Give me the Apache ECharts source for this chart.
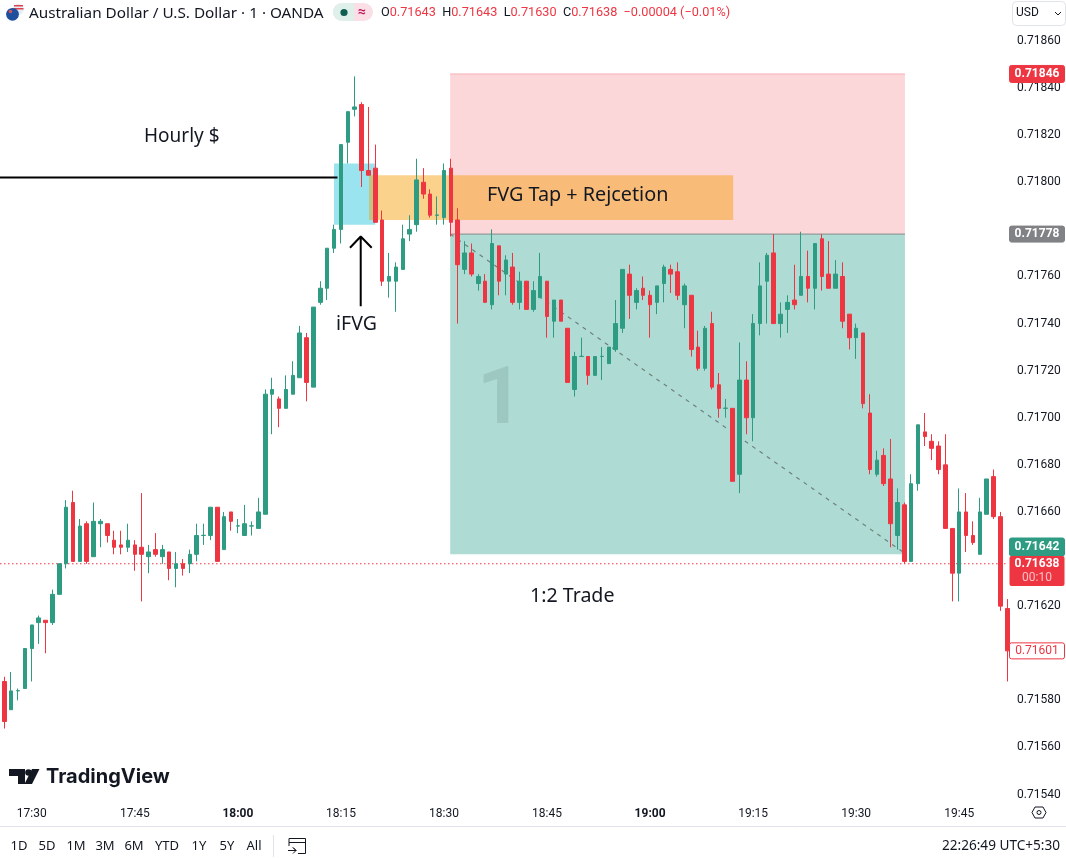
<!DOCTYPE html>
<html>
<head>
<meta charset="utf-8">
<title>AUDUSD 1m</title>
<script src="https://cdn.jsdelivr.net/npm/echarts@6/dist/echarts.min.js"></script>
<style>
    html, body { margin: 0; padding: 0; background: #fff; }
    #main { width: 1066px; height: 858px; }
</style>
</head>
<body>
<div id="main"></div>
<script>
// first candle is 17:26, one candle per minute
var firstMinute = 1046;

var opens = [0.71588,0.71576,0.71584,0.71585,0.71602,0.71613,0.71614,0.71613,0.71625,0.71638,
    0.71664,0.71639,0.71655,0.71641,0.71655,0.71655,0.71648,0.71646,0.71645,0.71646,
    0.71645,0.71641,0.71644,0.71641,0.71643,0.71636,0.71638,0.71638,0.71642,0.71650,
    0.71650,0.71662,0.71644,0.71660,0.71654,0.71650,0.71654,0.71653,0.71659,0.71710,
    0.71708,0.71704,0.71710,0.71717,0.71734,0.71713,0.71749,0.71755,0.71772,0.71780,
    0.71817,0.71831,0.71833,0.71805,0.71806,0.71784,0.71758,0.71758,0.71763,0.71778,
    0.71782,0.71800,0.71795,0.71786,0.71785,0.71806,0.71784,0.71763,0.71770,0.71757,
    0.71758,0.71748,0.71773,0.71761,0.71764,0.71749,0.71758,0.71746,0.71751,0.71758,
    0.71741,0.71750,0.71738,0.71712,0.71726,0.71726,0.71718,0.71726,0.71723,0.71729,
    0.71738,0.71761,0.71749,0.71755,0.71752,0.71749,0.71757,0.71763,0.71762,0.71748,
    0.71752,0.71730,0.71721,0.71740,0.71714,0.71704,0.71704,0.71676,0.71716,0.71700,
    0.71740,0.71758,0.71770,0.71740,0.71746,0.71750,0.71752,0.71760,0.71755,0.71776,
    0.71761,0.71755,0.71760,0.71744,0.71734,0.71736,0.71702,0.71676,0.71684,0.71674,
    0.71650,0.71663,0.71639,0.71672,0.71694,0.71690,0.71688,0.71680,0.71653,0.71634,
    0.71660,0.71650,0.71642,0.71659,0.71675,0.71658,0.71619];

var highs = [0.71590,0.71592,0.71585,0.71602,0.71612,0.71616,0.71614,0.71627,0.71638,0.71665,
    0.71669,0.71657,0.71656,0.71664,0.71657,0.71655,0.71652,0.71652,0.71655,0.71648,
    0.71668,0.71646,0.71651,0.71646,0.71643,0.71643,0.71640,0.71644,0.71655,0.71655,
    0.71662,0.71662,0.71660,0.71660,0.71657,0.71663,0.71656,0.71666,0.71712,0.71717,
    0.71709,0.71718,0.71724,0.71739,0.71736,0.71747,0.71758,0.71772,0.71782,0.71816,
    0.71830,0.71845,0.71834,0.71832,0.71816,0.71788,0.71770,0.71766,0.71782,0.71786,
    0.71810,0.71806,0.71797,0.71794,0.71808,0.71810,0.71789,0.71775,0.71774,0.71761,
    0.71761,0.71780,0.71773,0.71769,0.71770,0.71762,0.71758,0.71758,0.71770,0.71758,
    0.71750,0.71750,0.71738,0.71728,0.71734,0.71726,0.71726,0.71730,0.71730,0.71750,
    0.71763,0.71765,0.71755,0.71760,0.71754,0.71756,0.71765,0.71765,0.71766,0.71757,
    0.71752,0.71737,0.71739,0.71745,0.71719,0.71708,0.71704,0.71732,0.71724,0.71744,
    0.71766,0.71770,0.71778,0.71749,0.71752,0.71765,0.71779,0.71771,0.71774,0.71778,
    0.71775,0.71767,0.71766,0.71744,0.71740,0.71736,0.71710,0.71686,0.71687,0.71691,
    0.71670,0.71664,0.71676,0.71697,0.71702,0.71693,0.71690,0.71693,0.71653,0.71670,
    0.71668,0.71656,0.71666,0.71674,0.71678,0.71660,0.71623];

var lows = [0.71568,0.71576,0.71580,0.71585,0.71588,0.71604,0.71600,0.71612,0.71625,0.71636,
    0.71639,0.71639,0.71638,0.71641,0.71645,0.71647,0.71642,0.71642,0.71643,0.71635,
    0.71622,0.71634,0.71641,0.71638,0.71631,0.71628,0.71633,0.71634,0.71639,0.71646,
    0.71648,0.71639,0.71644,0.71652,0.71651,0.71650,0.71650,0.71653,0.71659,0.71693,
    0.71696,0.71704,0.71710,0.71717,0.71707,0.71713,0.71748,0.71750,0.71770,0.71774,
    0.71808,0.71828,0.71798,0.71803,0.71783,0.71756,0.71751,0.71745,0.71763,0.71775,
    0.71779,0.71793,0.71785,0.71782,0.71782,0.71777,0.71740,0.71761,0.71760,0.71754,
    0.71749,0.71746,0.71752,0.71752,0.71748,0.71746,0.71746,0.71745,0.71751,0.71734,
    0.71734,0.71741,0.71715,0.71709,0.71726,0.71714,0.71718,0.71716,0.71723,0.71728,
    0.71736,0.71742,0.71746,0.71750,0.71734,0.71744,0.71749,0.71753,0.71750,0.71738,
    0.71726,0.71720,0.71720,0.71712,0.71700,0.71700,0.71673,0.71668,0.71693,0.71690,
    0.71735,0.71740,0.71740,0.71734,0.71736,0.71746,0.71752,0.71749,0.71746,0.71754,
    0.71755,0.71755,0.71738,0.71729,0.71725,0.71704,0.71676,0.71675,0.71671,0.71645,
    0.71644,0.71638,0.71639,0.71669,0.71688,0.71682,0.71676,0.71653,0.71622,0.71622,
    0.71643,0.71646,0.71642,0.71659,0.71657,0.71618,0.71588];

var closes = [0.71571,0.71584,0.715841,0.71602,0.71612,0.71615,0.71613,0.71625,0.71638,0.71662,
    0.71639,0.71654,0.71639,0.71656,0.71656,0.71650,0.71645,0.71645,0.71648,0.71642,
    0.71642,0.71643,0.71642,0.71644,0.71636,0.71638,0.71636,0.71642,0.71650,0.716501,
    0.71662,0.71639,0.71658,0.71656,0.716541,0.71655,0.716541,0.71660,0.71710,0.71712,
    0.71704,0.71712,0.71718,0.71736,0.71715,0.71747,0.71755,0.71772,0.71780,0.71816,
    0.71830,0.71832,0.71805,0.71803,0.71783,0.71758,0.71760,0.71764,0.71776,0.71780,
    0.71801,0.71795,0.71786,0.717861,0.71805,0.71783,0.71765,0.71770,0.71761,0.71760,
    0.71749,0.71774,0.71758,0.71767,0.71749,0.71758,0.71746,0.71754,0.71760,0.71743,
    0.71750,0.71741,0.71715,0.71726,0.717261,0.71718,0.71726,0.717261,0.71730,0.71740,
    0.71763,0.71752,0.71754,0.71752,0.71748,0.71756,0.71764,0.71761,0.71752,0.71756,
    0.71729,0.71721,0.71738,0.71713,0.71704,0.717041,0.71673,0.71716,0.71700,0.71740,
    0.71756,0.71769,0.71740,0.71744,0.71749,0.71748,0.71760,0.71755,0.71774,0.71760,
    0.71755,0.71761,0.71741,0.71734,0.71738,0.71706,0.71678,0.71682,0.71672,0.71655,
    0.71664,0.71639,0.71672,0.71697,0.71692,0.71687,0.71678,0.71653,0.71634,0.71660,
    0.71650,0.71647,0.71660,0.71674,0.71658,0.71620,0.71601];

// axis ticks
var timeTicks = [1050,1065,1080,1095,1110,1125,1140,1155,1170,1185];
var priceMin = 0.7154, priceMax = 0.7186, priceStep = 0.0002;
var hiddenPriceLabels = ['0.71780', '0.71640', '0.71600'];

// drawings on the chart, x in minutes of the day, y in price
var xLeft = 1045.374, xRight = 1192.1;
var tradeX = [1110.9, 1177.1];
var stopPrice = 0.71846, entryPrice = 0.71778, targetPrice = 0.71642;
var ifvgBox = [1094, 1100, 0.71808, 0.71782];
var fvgBox = [1099.1, 1152.1, 0.71803, 0.71784];
var hourlyLine = [[xLeft, 0.71802], [1094.5, 0.71802]];
var pathLine = [[1110.9, 0.71778], [1176.8, 0.71643]];
var arrowLine = [[1096.32, 0.717722], [1097.88, 0.71777], [1099.48, 0.717722], [1097.88, 0.71777], [1097.88, 0.717473]];
var lastPrice = 0.71638, lowTagPrice = 0.71601;

var GREEN = '#2e9c82', RED = '#ee3642', INK = '#131722';
var FONT = 'Roboto', NOTE_FONT = '"Noto Sans"';

var candles = [];
for (var i = 0; i < opens.length; i++) {
    candles.push([firstMinute + i, opens[i], closes[i], lows[i], highs[i]]);
}

function hhmm(m) {
    var h = Math.floor(m / 60), n = m % 60;
    return h + ':' + (n < 10 ? '0' + n : n);
}

function lineSeries(points, color, width, type) {
    return {
        type: 'line',
        data: points,
        z: 2,
        silent: true,
        symbol: 'none',
        animation: false,
        lineStyle: { color: color, width: width, type: type || 'solid' }
    };
}

var chart = echarts.init(document.getElementById('main'));

var option = {
    animation: false,
    backgroundColor: '#fff',
    grid: { left: 0, width: 1008, top: 41, height: 753.5 },
    xAxis: {
        type: 'value',
        min: xLeft,
        max: xRight,
        splitLine: { show: false },
        axisLine: { show: false },
        axisTick: { show: false },
        axisLabel: {
            customValues: timeTicks,
            margin: 13,
            color: INK,
            fontFamily: FONT,
            fontSize: 12,
            formatter: function (v) {
                return v % 60 == 0 ? '{b|' + hhmm(v) + '}' : hhmm(v);
            },
            rich: { b: { fontWeight: 'bold', fontFamily: FONT, fontSize: 12, color: INK } }
        }
    },
    yAxis: {
        type: 'value',
        position: 'right',
        min: priceMin,
        max: priceMax,
        interval: priceStep,
        splitLine: { show: false },
        axisLine: { show: false },
        axisTick: { show: false },
        axisLabel: {
            margin: 9,
            color: INK,
            fontFamily: FONT,
            fontSize: 12,
            formatter: function (v) {
                var s = v.toFixed(5);
                return hiddenPriceLabels.indexOf(s) > -1 ? '' : s;
            }
        }
    },
    series: [
        {
            type: 'candlestick',
            z: 5,
            barWidth: 4,
            encode: { x: 0, y: [1, 2, 3, 4] },
            data: candles,
            itemStyle: { color: GREEN, color0: RED, borderColor: GREEN, borderColor0: RED, borderWidth: 1 },
            markArea: {
                silent: true,
                label: { show: false },
                data: [
                    [{ coord: [tradeX[0], stopPrice], itemStyle: { color: 'rgba(242,54,69,0.2)' } }, { coord: [tradeX[1], entryPrice] }],
                    [{ coord: [tradeX[0], entryPrice], itemStyle: { color: 'rgba(8,150,125,0.33)' } }, { coord: [tradeX[1], targetPrice] }],
                    [{ coord: [ifvgBox[0], ifvgBox[2]], itemStyle: { color: 'rgba(0,188,212,0.4)' } }, { coord: [ifvgBox[1], ifvgBox[3]] }],
                    [{ coord: [fvgBox[0], fvgBox[2]], itemStyle: { color: 'rgba(244,155,0,0.45)' } }, { coord: [fvgBox[1], fvgBox[3]] }]
                ]
            }
        },
        lineSeries([[xLeft, lastPrice], [xRight, lastPrice]], RED, 1.2, [1.5, 2.5]),
        lineSeries([[tradeX[0], stopPrice], [tradeX[1], stopPrice]], '#f7b0b6', 1),
        lineSeries([[tradeX[0], entryPrice], [tradeX[1], entryPrice]], '#868a8a', 1),
        lineSeries(pathLine, '#6f807b', 1.2, [4, 5]),
        lineSeries(hourlyLine, '#000', 2),
        lineSeries(arrowLine, '#000', 2)
    ]
};
chart.setOption(option);

// price tags on the right scale
function yOf(p) { return chart.convertToPixel({ yAxisIndex: 0 }, p); }

function priceTag(cy, h, text, fill, color, stroke) {
    return [
        { type: 'rect', z: 50, shape: { x: 1009.5, y: cy - h / 2, width: 55, height: h, r: 2 }, style: { fill: fill, stroke: stroke || fill, lineWidth: 1 } },
        { type: 'text', z: 51, style: { x: 1037, y: cy, text: text, fill: color, font: (stroke ? '' : 'bold ') + '12px ' + FONT, align: 'center', verticalAlign: 'middle' } }
    ];
}

function label(x, y, text, size, extra) {
    var st = { x: x, y: y, text: text, fill: INK, font: size + 'px ' + FONT, align: 'left', verticalAlign: 'middle' };
    for (var k in extra) { st[k] = extra[k]; }
    return { type: 'text', z: 60, style: st };
}

var rangeLabels = ['1D', '5D', '1M', '3M', '6M', 'YTD', '1Y', '5Y', 'All'];
var rangeX = [19, 47, 76, 105, 134, 167, 199, 227, 254];

var els = [];
els = els.concat(priceTag(yOf(stopPrice), 17, '0.71846', RED, '#fff'));
els = els.concat(priceTag(yOf(entryPrice), 16, '0.71778', '#808285', '#fff'));
els = els.concat(priceTag(547, 18, '0.71642', GREEN, '#fff'));
els.push({ type: 'rect', z: 50, shape: { x: 1009.5, y: 556, width: 55, height: 30, r: 2 }, style: { fill: RED } });
els.push(label(1037, 564, '0.71638', 12, { fill: '#fff', font: 'bold 12px ' + FONT, align: 'center' }));
els.push(label(1037, 578, '00:10', 12, { fill: '#fbc0c5', align: 'center' }));
els = els.concat(priceTag(yOf(lowTagPrice), 16, '0.71601', '#fff', RED, RED));

// annotations
els.push(label(144, 136.5, 'Hourly $', 19, { font: '19px ' + NOTE_FONT }));
els.push(label(487, 195.5, 'FVG Tap + Rejcetion', 20, { font: '19.8px ' + NOTE_FONT }));
els.push(label(336, 324.5, 'iFVG', 19, { font: '19.5px ' + NOTE_FONT }));
els.push(label(530, 596.5, '1:2 Trade', 19, { font: '19.6px ' + NOTE_FONT }));
els.push(label(500, 403, '1', 80, { font: 'bold 80px ' + FONT, fill: '#9cc8c1', align: 'center' }));

// header
els.push({ type: 'circle', z: 40, shape: { cx: 18.3, cy: 9.3, r: 5.5 }, style: { fill: '#e8eef5' } });
els.push({ type: 'rect', z: 41, shape: { x: 14, y: 5, width: 9, height: 1.5 }, style: { fill: '#e0424f' } });
els.push({ type: 'rect', z: 41, shape: { x: 13.5, y: 8, width: 10, height: 1.5 }, style: { fill: '#e0424f' } });
els.push({ type: 'circle', z: 42, shape: { cx: 12.5, cy: 14.3, r: 6.4 }, style: { fill: '#1d4f9c' } });
els.push({ type: 'circle', z: 43, shape: { cx: 10.5, cy: 11.5, r: 1.8 }, style: { fill: '#d8505c' } });
els.push(label(29, 14, 'Australian Dollar / U.S. Dollar · 1 · OANDA', 15, { font: '15.3px ' + NOTE_FONT }));

els.push({ type: 'rect', z: 40, shape: { x: 333, y: 3, width: 40, height: 18, r: 9 }, style: { fill: '#fbdfe6' } });
els.push({ type: 'rect', z: 41, shape: { x: 333, y: 3, width: 21, height: 18, r: [9, 0, 0, 9] }, style: { fill: '#dff0eb' } });
els.push({ type: 'circle', z: 42, shape: { cx: 344, cy: 12.5, r: 3.6 }, style: { fill: '#0f5f50' } });
els.push(label(362, 12.5, '≈', 14, { fill: '#c2185b', align: 'center', font: 'bold 14px ' + FONT }));

els.push({
    type: 'text', z: 40,
    style: {
        x: 381, y: 13, verticalAlign: 'middle', fill: INK, font: '12.7px ' + FONT,
        text: '{k|O}{v|0.71643}  {k|H}{v|0.71643}  {k|L}{v|0.71630}  {k|C}{v|0.71638}  {v|−0.00004 (−0.01%)}',
        rich: {
            k: { fill: INK, font: '12.7px ' + FONT },
            v: { fill: RED, font: '12.7px ' + FONT }
        }
    }
});

els.push({ type: 'rect', z: 40, shape: { x: 1012.5, y: 1.5, width: 53, height: 24, r: 4 }, style: { fill: '#fff', stroke: '#e0e3eb', lineWidth: 1 } });
els.push(label(1016, 13, 'USD', 12));
els.push({ type: 'polyline', z: 41, shape: { points: [[1055, 12], [1058, 15], [1061, 12]] }, style: { stroke: INK, lineWidth: 1, fill: null } });

// logo
els.push({ type: 'polygon', z: 40, shape: { points: [[9, 769], [25, 769], [25, 784], [18, 784], [18, 776], [9, 776]] }, style: { fill: INK } });
els.push({ type: 'circle', z: 40, shape: { cx: 28.5, cy: 772.5, r: 3.3 }, style: { fill: INK } });
els.push({ type: 'polygon', z: 40, shape: { points: [[32, 769], [39.5, 769], [32, 784], [24.5, 784]] }, style: { fill: INK } });
els.push(label(46, 777, 'TradingView', 20, { font: '700 20px Inter' }));

// time axis settings icon
els.push({ type: 'polygon', z: 40, shape: { points: [[1035, 807], [1043, 807], [1046, 812.5], [1043, 818], [1035, 818], [1032, 812.5]] }, style: { fill: '#fff', stroke: INK, lineWidth: 1 } });
els.push({ type: 'circle', z: 41, shape: { cx: 1039, cy: 812.5, r: 2 }, style: { fill: '#fff', stroke: INK, lineWidth: 1 } });

// bottom toolbar
els.push({ type: 'line', z: 40, shape: { x1: 0, y1: 826.5, x2: 1066, y2: 826.5 }, style: { stroke: '#e0e3eb', lineWidth: 1 } });
els.push({ type: 'line', z: 40, shape: { x1: 273.5, y1: 835, x2: 273.5, y2: 857 }, style: { stroke: '#e0e3eb', lineWidth: 1 } });
for (var r = 0; r < rangeLabels.length; r++) {
    els.push(label(rangeX[r], 846, rangeLabels[r], 13, { align: 'center', font: '13px ' + NOTE_FONT }));
}
els.push({ type: 'polyline', z: 40, shape: { points: [[289, 846], [289, 838.5], [305.5, 838.5], [305.5, 853.5], [298, 853.5]] }, style: { stroke: INK, lineWidth: 1, fill: null } });
els.push({ type: 'line', z: 40, shape: { x1: 289, y1: 842.5, x2: 305.5, y2: 842.5 }, style: { stroke: INK, lineWidth: 1 } });
els.push({ type: 'polyline', z: 40, shape: { points: [[288, 850.5], [296, 850.5], [293, 847.5], [296, 850.5], [293, 853.5]] }, style: { stroke: INK, lineWidth: 1, fill: null } });
els.push(label(1060, 846, '22:26:49 UTC+5:30', 13, { align: 'right', font: '13.6px ' + NOTE_FONT }));

chart.setOption({ graphic: els });
</script>
</body>
</html>
